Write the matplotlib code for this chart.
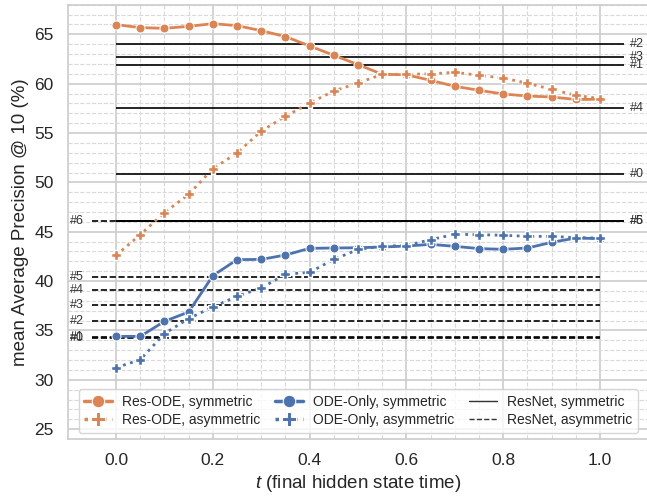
import matplotlib
matplotlib.use("Agg")
import matplotlib.pyplot as plt
from matplotlib.lines import Line2D
from matplotlib.ticker import MultipleLocator, FixedLocator
import numpy as np
import seaborn as sns

# Datos
t = [0.0, 0.05, 0.1, 0.15, 0.2, 0.25, 0.3, 0.35, 0.4, 0.45, 0.5,
     0.55, 0.6, 0.65, 0.7, 0.75, 0.8, 0.85, 0.9, 0.95, 1.0]

res_ode_sym = [65.98, 65.68, 65.61, 65.81, 66.08, 65.88, 65.37, 64.77, 63.82, 62.87, 61.93,
               60.95, 60.9, 60.34, 59.73, 59.33, 58.95, 58.75, 58.65, 58.4, 58.42]
res_ode_asym = [42.61, 44.71, 46.94, 48.79, 51.39, 52.98, 55.2, 56.7, 58.04, 59.26, 60.07,
                60.95, 60.95, 61.0, 61.15, 60.85, 60.57, 60.05, 59.42, 58.82, 58.49]
ode_only_sym = [34.4, 34.4, 35.92, 36.87, 40.55, 42.17, 42.2, 42.64, 43.32, 43.35, 43.38,
                43.45, 43.55, 43.72, 43.52, 43.29, 43.22, 43.35, 43.93, 44.36, 44.3]
ode_only_asym = [31.23, 32.04, 34.68, 36.2, 37.38, 38.46, 39.3, 40.69, 40.89, 42.2, 43.2,
                 43.55, 43.6, 44.2, 44.74, 44.7, 44.64, 44.53, 44.53, 44.4, 44.36]

# ResNet (lineas horizontales) #0..#6
resnet_sym = [50.8, 61.93, 64.05, 62.72, 57.5, 46.05, 46.1]
resnet_asym = [34.22, 34.38, 35.95, 37.55, 39.05, 40.4, 46.1]
resnet_names = ['#0', '#1', '#2', '#3', '#4', '#5', '#6']

orange = '#DD8452'
blue = '#4C72B0'

sns.set_theme(style='whitegrid')
plt.rcParams['font.family'] = ['Liberation Sans', 'DejaVu Sans']
plt.rcParams['mathtext.fontset'] = 'custom'
plt.rcParams['mathtext.it'] = 'Liberation Sans:italic'

fig = plt.figure(figsize=(6.47, 4.97), dpi=100)
ax = fig.add_axes([0.1046, 0.1167, 0.8977, 0.8738])

mk = dict(markeredgecolor='white')
ax.plot(t, res_ode_sym, '-', color=orange, lw=2, marker='o', ms=6.5, mew=0.75, zorder=4, **mk)
ax.plot(t, res_ode_asym, ':', color=orange, lw=2, marker='P', ms=7.5, mew=1, zorder=4, **mk)
ax.plot(t, ode_only_sym, '-', color=blue, lw=2, marker='o', ms=6.5, mew=0.75, zorder=4, **mk)
ax.plot(t, ode_only_asym, ':', color=blue, lw=2, marker='P', ms=7.5, mew=1, zorder=4, **mk)

for name, v in zip(resnet_names, resnet_asym):
    ax.hlines(v, -0.05, 1.0, colors='black', linestyles='--', lw=1.2, zorder=3)
    ax.text(-0.095, v, name, fontsize=9, color='#333333', va='center', ha='left')
for name, v in zip(resnet_names, resnet_sym):
    ax.hlines(v, 0.0, 1.05, colors='black', linestyles='-', lw=1.2, zorder=3)
    ax.text(1.062, v, name, fontsize=9, color='#333333', va='center', ha='left')

ax.set_xlim(-0.1, 1.1)
ax.set_ylim(24, 68)
ax.xaxis.set_major_locator(MultipleLocator(0.2))
ax.xaxis.set_minor_locator(FixedLocator(np.arange(0, 1.001, 0.05)))
ax.yaxis.set_major_locator(MultipleLocator(5))
ax.yaxis.set_minor_locator(MultipleLocator(1))
ax.grid(True, which='major', color='#cccccc', lw=1.2)
ax.grid(True, which='minor', color='#d9d9d9', lw=0.8, ls='--')
ax.tick_params(which='both', length=0, labelsize=12.5, pad=10)
for s in ax.spines.values():
    s.set_color('#cccccc')
    s.set_linewidth(1.2)

ax.set_xlabel('$t$ (final hidden state time)', fontsize=13.5)
ax.set_ylabel('mean Average Precision @ 10 (%)', fontsize=13.5)

handles = [
    Line2D([], [], color=orange, ls='-', lw=2.5, marker='o', ms=9, mew=0.75, **mk),
    Line2D([], [], color=orange, ls=':', lw=2.5, marker='P', ms=10, mew=0.75, **mk),
    Line2D([], [], color=blue, ls='-', lw=2.5, marker='o', ms=9, mew=0.75, **mk),
    Line2D([], [], color=blue, ls=':', lw=2.5, marker='P', ms=10, mew=0.75, **mk),
    Line2D([], [], color='#333333', ls='-', lw=1),
    Line2D([], [], color='#333333', ls='--', lw=1),
]
labels = ['Res-ODE, symmetric', 'Res-ODE, asymmetric',
          'ODE-Only, symmetric', 'ODE-Only, asymmetric',
          'ResNet, symmetric', 'ResNet, asymmetric']
ax.legend(handles, labels, loc='lower center', ncol=3, fontsize=10,
          handlelength=2.0, handletextpad=0.7, labelspacing=0.3,
          columnspacing=1.1, borderaxespad=0.45, frameon=True)

fig.savefig('out.png', dpi=100)
